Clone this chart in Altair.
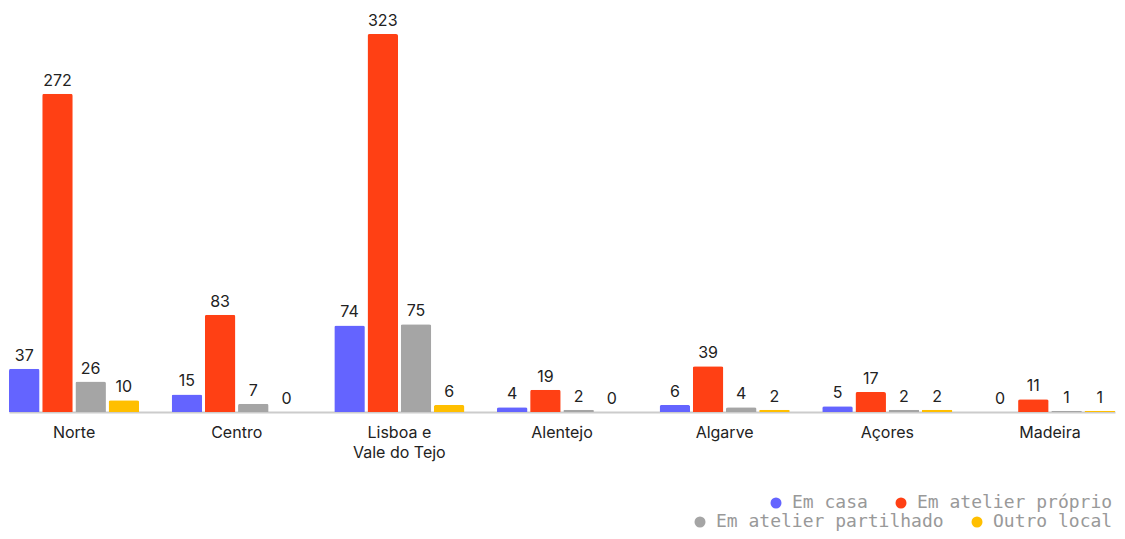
import altair as alt
import pandas as pd

regions = ["Norte", "Centro", "Lisboa e Vale do Tejo", "Alentejo", "Algarve", "Açores", "Madeira"]
series = ["Em casa", "Em atelier próprio", "Em atelier partilhado", "Outro local"]
em_casa = [37, 15, 74, 4, 6, 5, 0]
atelier_proprio = [272, 83, 323, 19, 39, 17, 11]
atelier_partilhado = [26, 7, 75, 2, 4, 2, 1]
outro_local = [10, 0, 6, 0, 2, 2, 1]
colors = ["#6464ff", "#ff4014", "#a5a5a5", "#ffbf00"]

rows = []
for i, r in enumerate(regions):
    for s, vals in zip(series, [em_casa, atelier_proprio, atelier_partilhado, outro_local]):
        rows.append({"region": r, "series": s, "value": vals[i]})
df = pd.DataFrame(rows)

x = alt.X(
    "region:N", sort=regions,
    scale=alt.Scale(paddingInner=0.2, paddingOuter=0),
    axis=alt.Axis(
        title=None, labelAngle=0, ticks=False, domainColor="#cccccc", domainWidth=2,
        labelFont="Inter", labelFontSize=16, labelColor="#222222", labelPadding=12,
        labelLineHeight=20,
        labelExpr="datum.label == 'Lisboa e Vale do Tejo' ? ['Lisboa e', 'Vale do Tejo'] : datum.label",
    ),
)
xo = alt.XOffset("series:N", sort=series, scale=alt.Scale(domain=series, paddingInner=0.08))
y = alt.Y("value:Q", scale=alt.Scale(domain=[0, 323], nice=False), axis=None)

base = alt.Chart(df)


def legend(x0, y0):
    return alt.Legend(
        title=None, orient="none", legendX=x0, legendY=y0, direction="horizontal", columns=2,
        symbolType="circle", symbolSize=121, symbolStrokeWidth=0,
        labelFont="DejaVu Sans Mono", labelFontSize=18, labelColor="#999999", labelLimit=500,
        labelOffset=7, columnPadding=24, padding=0,
    )


bars1 = base.transform_filter(
    alt.FieldOneOfPredicate(field="series", oneOf=series[:2])
).mark_bar(cornerRadiusTopLeft=2, cornerRadiusTopRight=2).encode(
    x=x, xOffset=xo, y=y,
    color=alt.Color("series:N", sort=series[:2],
                    scale=alt.Scale(domain=series[:2], range=colors[:2]),
                    legend=legend(758, 460)),
)
bars2 = base.transform_filter(
    alt.FieldOneOfPredicate(field="series", oneOf=series[2:])
).mark_bar(cornerRadiusTopLeft=2, cornerRadiusTopRight=2).encode(
    x=x, xOffset=xo, y=y,
    color=alt.Color("series:N", sort=series[2:],
                    scale=alt.Scale(domain=series[2:], range=colors[2:]),
                    legend=legend(682, 479)),
)
labels = base.mark_text(dy=-5, baseline="bottom", font="Inter", fontSize=16, color="#222222").encode(
    x=x, xOffset=xo, y=y, text="value:Q"
)

chart = alt.layer(bars1, bars2, labels).resolve_scale(color="independent").properties(
    width=1106, height=378,
    autosize=alt.AutoSizeParams(type="none"),
    padding={"left": 1, "top": 26, "right": 2, "bottom": 119},
).configure_view(stroke=None)

chart.save("out.html", embed_options={"renderer": "svg", "actions": False})
